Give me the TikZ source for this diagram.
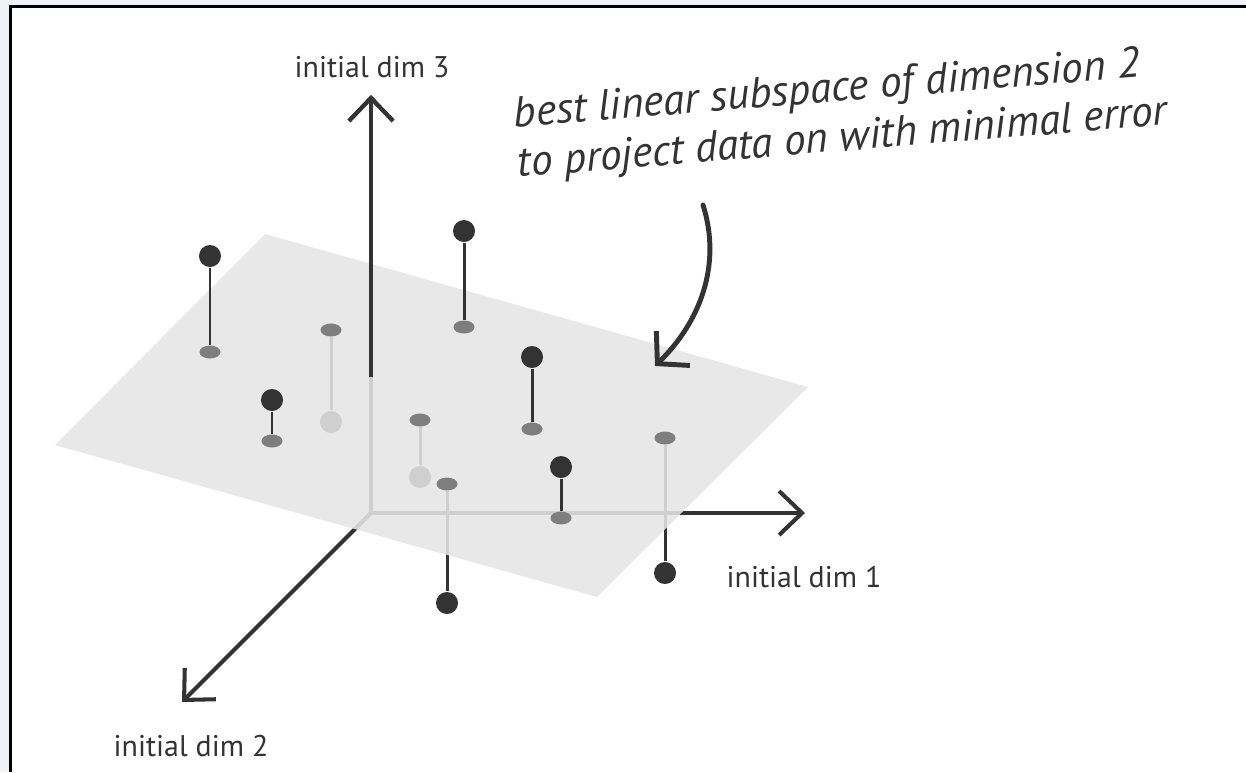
\documentclass[tikz,border=0pt]{standalone}
\usepackage{fontspec}
\setmainfont{PT Sans}
\usetikzlibrary{arrows.meta,shapes.geometric,positioning}

\pgfdeclarelayer{paper}
\pgfdeclarelayer{under}
\pgfdeclarelayer{sheet}
\pgfsetlayers{paper,under,sheet,main}

\definecolor{ink}{HTML}{333333}
\definecolor{projgray}{HTML}{7E7E7E}
\definecolor{planegray}{HTML}{E5E5E5}
\definecolor{outside}{HTML}{F1F2F4}

\tikzset{
  axis/.style={draw=ink, line width=1.15pt, -{Straight Barb[length=2.3mm,width=4.4mm]}},
  datapt/.style={circle, fill=ink, inner sep=0pt, minimum size=0.22cm},
  proj/.style={ellipse, fill=projgray, inner sep=0pt, minimum width=0.21cm, minimum height=0.13cm},
  stem/.style={draw=ink, line width=0.85pt},
  notearrow/.style={draw=ink, line width=1.4pt, line cap=round, -{Straight Barb[length=2.2mm,width=4.8mm]}},
  axislabel/.style={text=ink, font=\fontsize{8.5}{10}\selectfont, inner sep=0pt},
  note/.style={text=ink, font=\fontsize{12.3}{14.2}\selectfont\itshape, inner sep=0pt, align=left, anchor=base west, rotate=4.6},
}

\begin{document}
\begin{tikzpicture}[x=0.01cm,y=-0.01cm]
  \useasboundingbox (0,0) rectangle (1246,772);
  \begin{pgfonlayer}{paper}
    \fill[outside] (0,0) rectangle (1246,772);
    \fill[white] (10,6) rectangle (1246,772);
    \draw[black, line width=0.85pt] (10.5,772) -- (10.5,6) -- (1246,6);
  \end{pgfonlayer}

  % axes
  \coordinate (o) at (371,513);
  \coordinate (x1) at (805,513);
  \coordinate (x2) at (182,702);
  \coordinate (x3) at (371,95);
  \coordinate (x3in) at (371,377);

  % the plane
  \begin{pgfonlayer}{sheet}
    \fill[planegray, fill opacity=0.88] (265,234) -- (808,387) -- (597,597) -- (55,445) -- cycle;
  \end{pgfonlayer}

  % data points and their projections
  \node[datapt] (p1) at (210,256) {};
  \node[datapt] (p2) at (464,231) {};
  \node[datapt] (p3) at (272,400) {};
  \node[datapt] (p6) at (532,357) {};
  \node[datapt] (p8) at (561,467) {};
  \node[proj] (q1) at (210,352) {};
  \node[proj] (q2) at (464,327) {};
  \node[proj] (q3) at (272,441) {};
  \node[proj] (q4) at (331,330) {};
  \node[proj] (q5) at (420,420) {};
  \node[proj] (q6) at (532,429) {};
  \node[proj] (q7) at (447,484) {};
  \node[proj] (q8) at (561,518) {};
  \node[proj] (q9) at (665,438) {};

  \begin{pgfonlayer}{under}
    \draw[axis] (o) -- (x1);
    \draw[axis] (o) -- (x2);
    \draw[axis] (o) -- (x3);
    \node[datapt] (p4) at (331,422) {};
    \node[datapt] (p5) at (420,477) {};
    \node[datapt] (p7) at (447,603) {};
    \node[datapt] (p9) at (665,573) {};
    \draw[stem] (q4) -- (p4);
    \draw[stem] (q5) -- (p5);
    \draw[stem] (q7) -- (p7);
    \draw[stem] (q9) -- (p9);
  \end{pgfonlayer}

  \draw[axis] (x3in) -- (x3);
  \begin{scope}[stem]
    \draw (p1) -- (q1);
    \draw (p2) -- (q2);
    \draw (p3) -- (q3);
    \draw (p6) -- (q6);
    \draw (p8) -- (q8);
  \end{scope}

  \node[axislabel] (dim3) at (372,67) {initial dim 3};
  \node[axislabel] (dim1) at (804,577) {initial dim 1};
  \node[axislabel] (dim2) at (191,746) {initial dim 2};

  \node[note] (note) at (518,177) {best linear subspace of dimension 2\\to project data on with minimal error};
  \coordinate (c1) at (703,205);
  \coordinate (c2) at (655,366);
  \draw[notearrow] (c1) .. controls (722,265) and (700,322) .. (c2);
\end{tikzpicture}
\end{document}
